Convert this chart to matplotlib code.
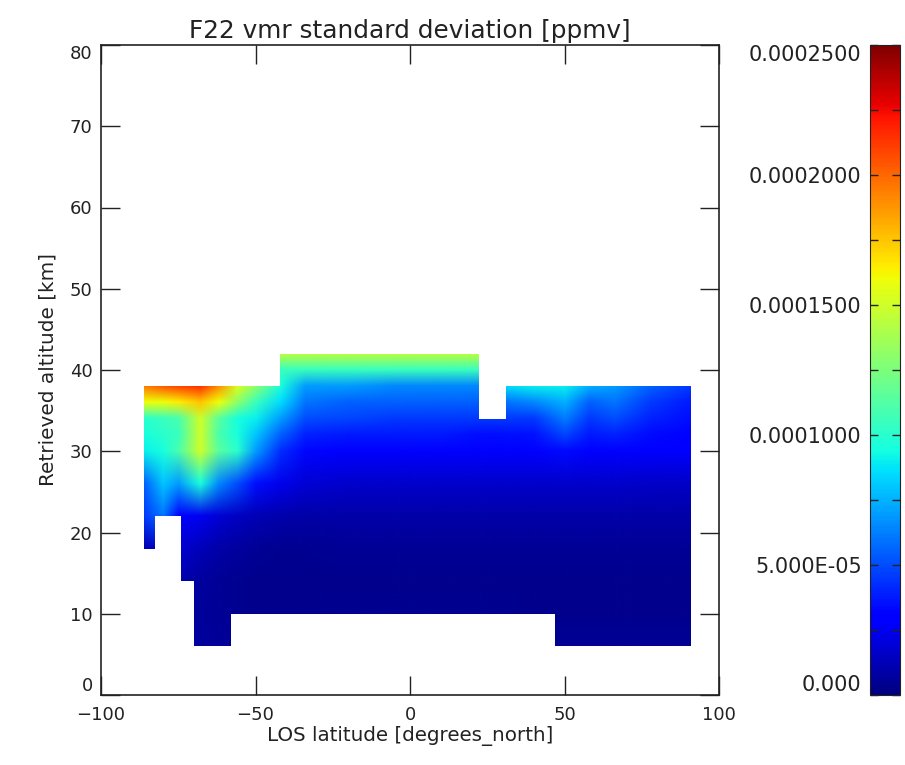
import matplotlib
matplotlib.use('Agg')
import matplotlib.pyplot as plt
import numpy as np
from matplotlib.image import NonUniformImage
from matplotlib.path import Path
from matplotlib.patches import PathPatch

# grid nodes of the field
lat_nodes = [-86.2, -80, -75, -68, -62, -56, -50, -42, -34, -20, -5, 10, 22, 31, 40, 50, 58, 66, 78, 91]
alt_nodes = [6, 10, 14, 18, 22, 26, 30, 32, 34, 36, 38, 40, 42]

# standard deviation, in 1e-5 ppmv, one list per altitude
sd_06 = [0.7, 0.7, 0.7, 0.7, 0.6, 0.5, 0.4, 0.4, 0.4, 0.4, 0.4, 0.4, 0.4, 0.4, 0.4, 0.5, 0.5, 0.5, 0.5, 0.5]
sd_10 = [0.6, 0.7, 0.7, 0.6, 0.5, 0.4, 0.3, 0.3, 0.3, 0.4, 0.4, 0.4, 0.4, 0.4, 0.3, 0.3, 0.3, 0.3, 0.3, 0.3]
sd_14 = [0.8, 1.0, 1.0, 0.7, 0.5, 0.4, 0.3, 0.3, 0.3, 0.3, 0.3, 0.3, 0.3, 0.3, 0.3, 0.3, 0.3, 0.3, 0.3, 0.3]
sd_18 = [1.0, 2.0, 1.8, 1.3, 0.9, 0.7, 0.5, 0.4, 0.4, 0.5, 0.5, 0.5, 0.5, 0.5, 0.5, 0.5, 0.5, 0.5, 0.5, 0.5]
sd_22 = [4.5, 6.0, 3.2, 2.5, 1.9, 1.5, 1.2, 1.0, 0.9, 0.9, 0.9, 0.9, 0.9, 0.9, 0.9, 0.9, 0.9, 0.9, 0.9, 0.9]
sd_26 = [5.5, 8.0, 7.0, 9.5, 6.5, 5.0, 3.5, 2.4, 1.9, 1.7, 1.7, 1.7, 1.7, 1.7, 1.7, 1.7, 1.7, 1.7, 1.6, 1.6]
sd_30 = [9.0, 9.5, 11.0, 15.0, 11.5, 10.0, 7.0, 4.2, 3.3, 3.1, 3.1, 3.1, 3.0, 3.0, 3.1, 3.4, 3.1, 3.2, 3.0, 2.9]
sd_32 = [9.5, 10.0, 10.5, 15.0, 11.0, 9.5, 8.0, 5.5, 4.0, 3.8, 3.8, 3.8, 3.5, 3.5, 3.6, 4.8, 3.8, 4.0, 3.4, 3.2]
sd_34 = [10.0, 10.5, 11.0, 15.0, 11.5, 9.5, 9.0, 7.0, 5.0, 4.8, 4.5, 4.5, 4.5, 4.5, 4.5, 6.2, 4.5, 5.0, 4.0, 3.5]
sd_36 = [16.0, 16.0, 16.5, 17.5, 16.0, 13.0, 10.5, 8.5, 6.0, 5.5, 5.5, 5.5, 5.5, 6.0, 6.5, 7.5, 5.5, 6.0, 4.5, 3.8]
sd_38 = [19.5, 20.5, 21.0, 21.5, 19.0, 15.5, 13.0, 9.5, 7.0, 7.0, 6.5, 6.5, 6.5, 8.5, 9.0, 9.0, 7.5, 7.0, 5.5, 4.5]
sd_40 = [19.5, 20.5, 21.0, 21.5, 19.0, 15.5, 13.0, 10.5, 10.5, 10.5, 10.5, 10.5, 10.5, 8.5, 9.0, 9.0, 7.5, 7.0, 5.5, 4.5]
sd_42 = [19.5, 20.5, 21.0, 21.5, 19.0, 15.5, 13.0, 14.5, 14.5, 14.5, 14.5, 14.5, 14.5, 8.5, 9.0, 9.0, 7.5, 7.0, 5.5, 4.5]

# retrieved altitude range of each latitude band
band_edges = [-86.2, -82.4, -74, -70, -58, -42, 22.3, 31, 47, 91]
band_bottom = [18, 22, 14, 6, 10, 10, 10, 10, 6]
band_top = [38, 38, 38, 38, 38, 42, 34, 38, 38]

x_ticks = [-100, -50, 0, 50, 100]
y_ticks = [0, 10, 20, 30, 40, 50, 60, 70, 80]
cb_ticks = [0, 5e-5, 1e-4, 1.5e-4, 2e-4, 2.5e-4]
cb_labels = ['0.000', '5.000E-05', '0.0001000', '0.0001500', '0.0002000', '0.0002500']
cb_minor = [2.5e-5, 7.5e-5, 1.25e-4, 1.75e-4, 2.25e-4]

plt.rcParams['font.family'] = 'DejaVu Sans'
plt.rcParams['font.size'] = 13
ink = '#222222'

W, H = 905, 765
fig = plt.figure(figsize=(W / 100, H / 100), dpi=100)
ax = fig.add_axes([101 / W, (H - 695) / H, 618 / W, 650 / H])

field = np.array([sd_06, sd_10, sd_14, sd_18, sd_22, sd_26, sd_30,
                  sd_32, sd_34, sd_36, sd_38, sd_40, sd_42]) * 1e-5
im = NonUniformImage(ax, interpolation='bilinear', cmap='jet',
                     norm=plt.Normalize(0, 2.5e-4))
im.set_data(lat_nodes, alt_nodes, field)
ax.add_image(im)

# outline of the retrieved region, top going east then bottom going back
outline = []
for i in range(len(band_top)):
    outline += [(band_edges[i], band_top[i]), (band_edges[i + 1], band_top[i])]
for i in reversed(range(len(band_bottom))):
    outline += [(band_edges[i + 1], band_bottom[i]), (band_edges[i], band_bottom[i])]
outline.append(outline[0])
patch = PathPatch(Path(outline), transform=ax.transData, fc='none', ec='none')
ax.add_patch(patch)
im.set_clip_path(patch)

ax.set_xlim(-100, 100)
ax.set_ylim(0, 80)
ax.set_xticks(x_ticks)
ax.set_yticks(y_ticks)
ax.tick_params(direction='in', length=14, width=1.0, top=True, right=True,
               color=ink, labelcolor=ink)
ax.tick_params(axis='x', pad=8)
ax.tick_params(axis='y', pad=6)
labels = ax.get_yticklabels()
labels[0].set_va('bottom')
labels[-1].set_va('top')
for s in ax.spines.values():
    s.set_color(ink)
    s.set_linewidth(1.2)
ax.set_title('F22 vmr standard deviation [ppmv]', color=ink, fontsize=17.8, pad=5)
ax.set_xlabel('LOS latitude [degrees_north]', color=ink, fontsize=14.3, labelpad=1)
ax.set_ylabel('Retrieved altitude [km]', color=ink, fontsize=14.4, labelpad=9)

cax = fig.add_axes([870 / W, (H - 695) / H, 30 / W, 650 / H])
cb = fig.colorbar(im, cax=cax)
cb.outline.set_edgecolor(ink)
cb.set_ticks(cb_ticks, labels=cb_labels)
cax.set_yticks(cb_minor, minor=True)
cax.yaxis.set_ticks_position('both')
cax.yaxis.set_label_position('left')
cax.tick_params(which='both', direction='in', length=6, width=1.0, color=ink,
                labelleft=True, labelright=False, labelcolor=ink, labelsize=15, pad=6)
cb_text = cax.get_yticklabels()
cb_text[0].set_va('bottom')
cb_text[-1].set_va('top')

fig.savefig('out.png', dpi=100)
